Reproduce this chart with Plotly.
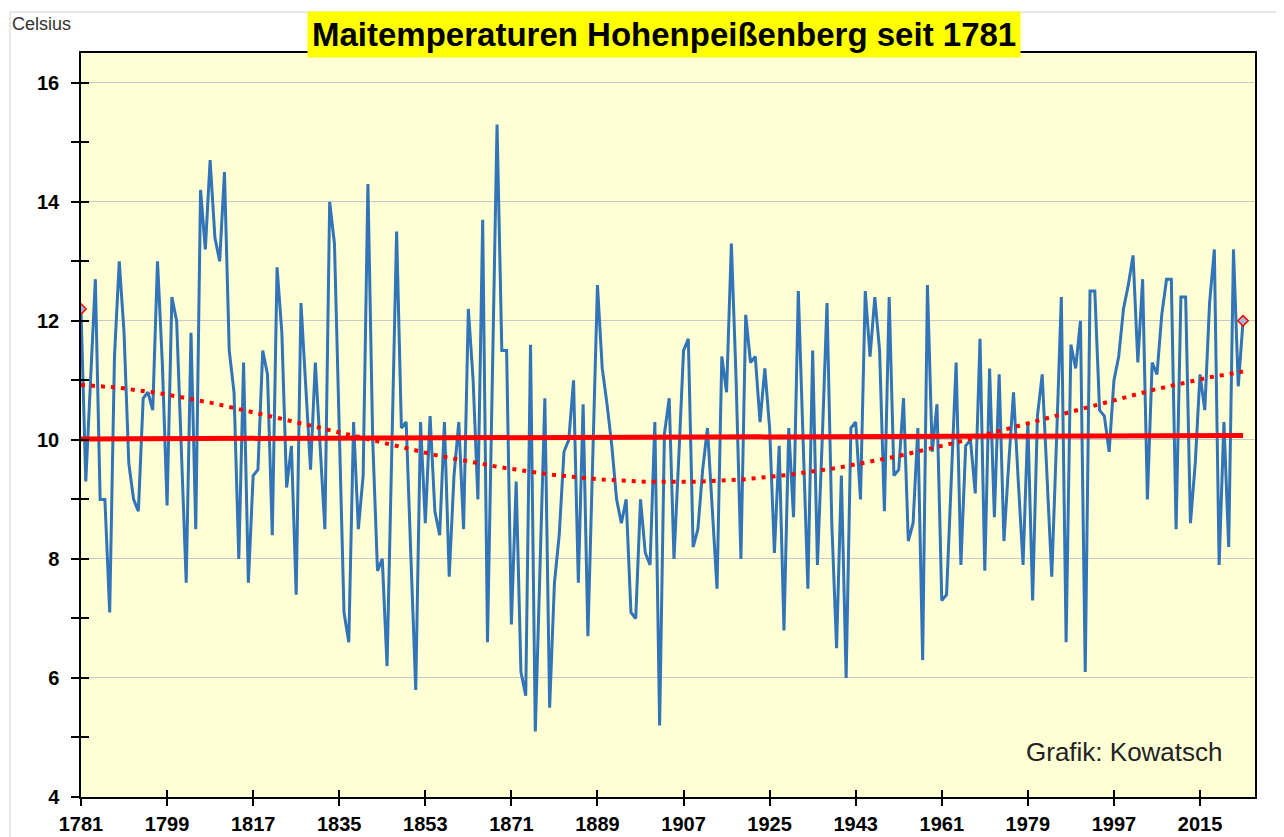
import numpy as np
import plotly.graph_objects as go

# ---- data ----
first_year = 1781
temps = [
    12.2, 9.3, 11.0, 12.7, 9.0, 9.0, 7.1, 11.4, 13.0, 11.8,   # 1781-1790
    9.6, 9.0, 8.8, 10.7, 10.8, 10.5, 13.0, 11.3, 8.9, 12.4,   # 1791-1800
    12.0, 9.9, 7.6, 11.8, 8.5, 14.2, 13.2, 14.7, 13.4, 13.0,  # 1801-1810
    14.5, 11.5, 10.8, 8.0, 11.3, 7.6, 9.4, 9.5, 11.5, 11.1,   # 1811-1820
    8.4, 12.9, 11.8, 9.2, 9.9, 7.4, 12.3, 10.9, 9.5, 11.3,    # 1821-1830
    9.9, 8.5, 14.0, 13.3, 10.2, 7.1, 6.6, 10.3, 8.5, 9.4,     # 1831-1840
    14.3, 10.0, 7.8, 8.0, 6.2, 9.9, 13.5, 10.2, 10.3, 8.0,    # 1841-1850
    5.8, 10.3, 8.6, 10.4, 8.8, 8.4, 10.3, 7.7, 9.4, 10.3,     # 1851-1860
    8.5, 12.2, 11.0, 9.0, 13.7, 6.6, 11.0, 15.3, 11.5, 11.5,  # 1861-1870
    6.9, 9.3, 6.1, 5.7, 11.6, 5.1, 7.9, 10.7, 5.5, 7.6,       # 1871-1880
    8.4, 9.8, 10.0, 11.0, 7.6, 10.6, 6.7, 9.6, 12.6, 11.2,    # 1881-1890
    10.6, 9.9, 9.0, 8.6, 9.0, 7.1, 7.0, 9.0, 8.1, 7.9,        # 1891-1900
    10.3, 5.2, 10.1, 10.7, 8.0, 9.7, 11.5, 11.7, 8.2, 8.5,    # 1901-1910
    9.5, 10.2, 8.9, 7.5, 11.4, 10.8, 13.3, 11.0, 8.0, 12.1,   # 1911-1920
    11.3, 11.4, 10.3, 11.2, 10.2, 8.1, 9.9, 6.8, 10.2, 8.7,   # 1921-1930
    12.5, 10.0, 7.5, 11.5, 7.9, 10.0, 12.3, 8.6, 6.5, 9.4,    # 1931-1940
    6.0, 10.2, 10.3, 9.0, 12.5, 11.4, 12.4, 11.5, 8.8, 12.4,  # 1941-1950
    9.4, 9.5, 10.7, 8.3, 8.6, 10.2, 6.3, 12.6, 9.8, 10.6,     # 1951-1960
    7.3, 7.4, 9.3, 11.3, 7.9, 9.9, 10.0, 9.1, 11.7, 7.8,      # 1961-1970
    11.2, 8.7, 11.1, 8.3, 9.6, 10.8, 9.3, 7.9, 10.3, 7.3,     # 1971-1980
    10.4, 11.1, 9.4, 7.7, 10.0, 12.4, 6.6, 11.6, 11.2, 12.0,  # 1981-1990
    6.1, 12.5, 12.5, 10.5, 10.4, 9.8, 11.0, 11.4, 12.2, 12.6, # 1991-2000
    13.1, 11.3, 12.7, 9.0, 11.3, 11.1, 12.1, 12.7, 12.7, 8.5, # 2001-2010
    12.4, 12.4, 8.6, 9.6, 11.1, 10.5, 12.3, 13.2, 7.9, 10.3,  # 2011-2020
    8.2, 13.2, 10.9, 12.0,                                    # 2021-2024
]
years = list(range(first_year, first_year + len(temps)))
x_tick_years = list(range(1781, 2016, 18))
y_ticks = [4, 6, 8, 10, 12, 14, 16]
y_minor = [5, 7, 9, 11, 13, 15]

title_text = "Maitemperaturen Hohenpeißenberg seit 1781"
unit_text = "Celsius"
credit_text = "Grafik: Kowatsch"

# ---- trend lines computed from the data (as the spreadsheet did) ----
yr = np.array(years, dtype=float)
tv = np.array(temps, dtype=float)
u = (yr - 1900.0) / 100.0
lin = np.polyval(np.polyfit(u, tv, 1), u)
poly = np.polyval(np.polyfit(u, tv, 4), u)

FONT = "Liberation Sans, Arial, sans-serif"
BLUE = "#3174B7"
RED = "#FF0000"
XR = [1781, 2026.5]
YR = [4, 16.5]

fig = go.Figure()
fig.add_trace(go.Scatter(x=years, y=temps, mode="lines",
                         line=dict(color=BLUE, width=3), hoverinfo="x+y",
                         showlegend=False))
fig.add_trace(go.Scatter(x=[years[0], years[-1]], y=[temps[0], temps[-1]],
                         mode="markers",
                         marker=dict(symbol="diamond", size=8, color="#9DB8E0",
                                     line=dict(color=RED, width=1.5)),
                         showlegend=False, hoverinfo="skip"))
fig.add_trace(go.Scatter(x=years, y=lin, mode="lines", xaxis="x2", yaxis="y2",
                         line=dict(color=RED, width=5), showlegend=False,
                         hoverinfo="skip"))
fig.add_trace(go.Scatter(x=years, y=poly, mode="lines", xaxis="x2", yaxis="y2",
                         line=dict(color=RED, width=4, dash="4px,6px"),
                         showlegend=False, hoverinfo="skip"))

axis_common = dict(showgrid=False, zeroline=False)

fig.update_layout(
    width=1276, height=829,
    paper_bgcolor="white",
    plot_bgcolor="#FFFFD6",
    margin=dict(l=73, r=29, t=45, b=40, autoexpand=False),
    font=dict(family=FONT, color="black"),
    xaxis=dict(range=XR, tickmode="array", tickvals=x_tick_years,
               ticktext=[str(v) for v in x_tick_years],
               ticks="outside", ticklen=7, tickwidth=1.5, tickcolor="black",
               tickfont=dict(family=FONT, size=20, color="black", weight="bold"),
               showline=True, linecolor="black", linewidth=1.5, mirror=True,
               ticklabelstandoff=1, **axis_common),
    yaxis=dict(range=YR, tickmode="array", tickvals=y_ticks,
               ticktext=[str(v) for v in y_ticks],
               ticks="outside", ticklen=8, tickwidth=1.5, tickcolor="black",
               tickfont=dict(family=FONT, size=20, color="black", weight="bold"),
               showline=True, linecolor="black", linewidth=1.5, mirror=True,
               showgrid=True, gridcolor="#C8C8C8", gridwidth=1, zeroline=False,
               minor=dict(tickvals=y_minor, ticks="outside",
                          ticklen=8, tickwidth=1.5, tickcolor="black",
                          showgrid=False),
               ticklabelstandoff=8),
    xaxis2=dict(range=XR, overlaying="x", anchor="y2", side="bottom",
                tickmode="array", tickvals=x_tick_years, ticks="inside",
                ticklen=7, tickwidth=1.5, tickcolor="black",
                showticklabels=False, showline=False, **axis_common),
    yaxis2=dict(range=YR, overlaying="y", anchor="x2", side="left",
                tickmode="array", tickvals=y_ticks, ticks="inside",
                ticklen=8, tickwidth=1.5, tickcolor="black",
                minor=dict(tickvals=y_minor, ticks="inside",
                           ticklen=8, tickwidth=1.5, tickcolor="black"),
                showticklabels=False, showline=False, **axis_common),
    annotations=[
        dict(text="<b>" + title_text + "</b>", xref="paper", yref="paper",
             x=0.4966, y=1.0255, xanchor="center", yanchor="middle",
             showarrow=False, bgcolor="#FFFF00", borderpad=4,
             font=dict(family=FONT, size=33, color="black")),
        dict(text=unit_text, xref="paper", yref="paper",
             x=-0.0605, y=1.039, xanchor="left", yanchor="middle",
             showarrow=False, font=dict(family=FONT, size=18, color="#333333")),
        dict(text=credit_text, xref="paper", yref="paper",
             x=0.9744, y=0.0605, xanchor="right", yanchor="middle",
             showarrow=False, font=dict(family=FONT, size=26, color="#222222")),
    ],
    shapes=[
        dict(type="rect", xref="paper", yref="paper",
             x0=-0.0605, x1=1.05, y0=-0.2, y1=1.0551,
             line=dict(color="#D0D0D0", width=1), fillcolor="rgba(0,0,0,0)",
             layer="below"),
    ],
)

fig.write_html("out.html")
